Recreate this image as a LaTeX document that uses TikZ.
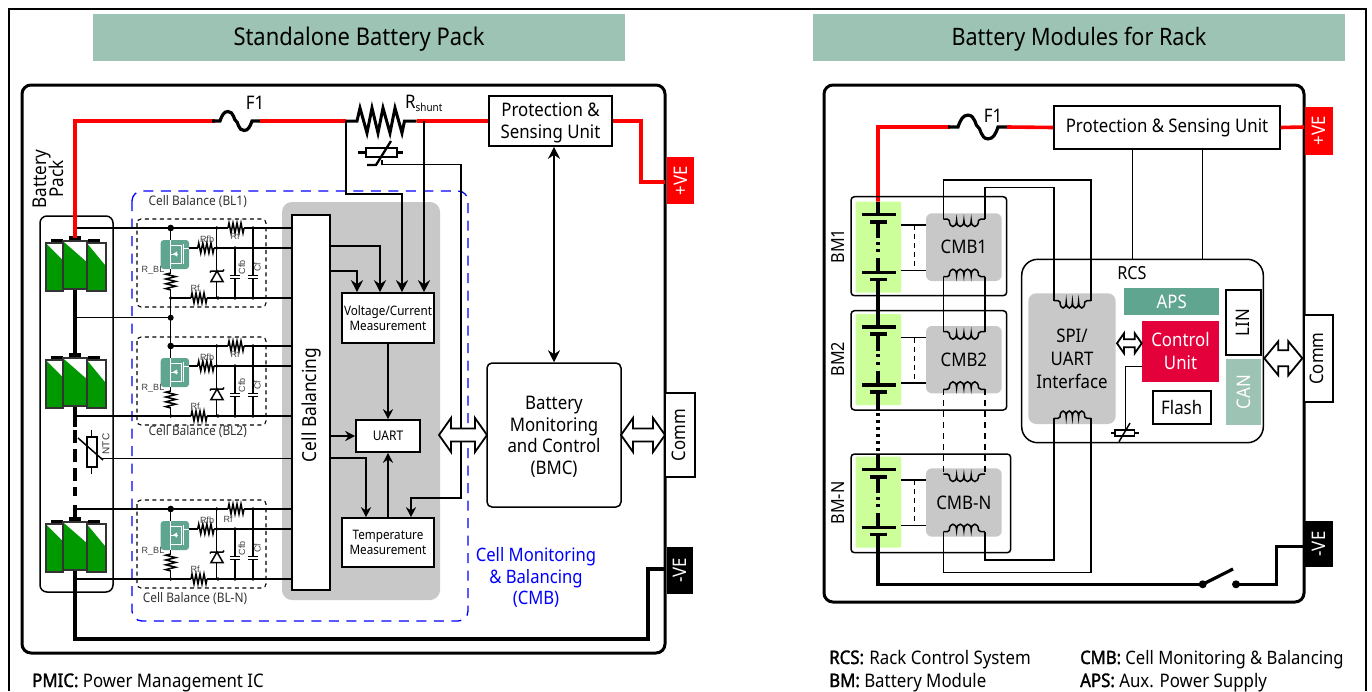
\documentclass[tikz,border=0pt]{standalone}
\usepackage{fontspec}
\setmainfont{Noto Sans}[FakeStretch=0.9,BoldFont=*,BoldFeatures={FakeBold=1.6}]
\newfontfamily\arialf{Liberation Sans}
\usetikzlibrary{arrows.meta,calc}
\definecolor{mint}{HTML}{9DC3B5}
\definecolor{teal2}{HTML}{5FA58F}
\definecolor{grayb}{HTML}{C8C8C8}
\definecolor{limeb}{HTML}{CCFF99}
\definecolor{crim}{HTML}{E4003A}
\definecolor{cellg}{HTML}{009900}
\definecolor{redv}{HTML}{FF0000}
\newcommand\fsz[2]{\fontsize{#1}{#2}\selectfont}
\newcommand\boxn[7][]{\node[#1,minimum width=#5-#3,minimum height=#6-#4] (#2) at ({(#3+#5)/2},{(#4+#6)/2}) {#7};}
\newcommand\hres[3]{\draw[wire] (#1,#3) -- ++({(#2-#1)/16},-5) -- ++({(#2-#1)/8},10) -- ++({(#2-#1)/8},-10) -- ++({(#2-#1)/8},10) -- ++({(#2-#1)/8},-10) -- ++({(#2-#1)/8},10) -- ++({(#2-#1)/8},-10) -- ++({(#2-#1)/8},10) -- ++({(#2-#1)/16},-5);}
\newcommand\fuse[3]{\draw[line width=3.2pt,shift={(#1,#2)},xscale=#3,yscale=#3] (0,0) -- (8,0) .. controls (10,-6) and (12,-9.5) .. (16,-9.5) .. controls (22,-9.5) and (22,0) .. (24,0) .. controls (26,0) and (26,9.5) .. (32,9.5) .. controls (36,9.5) and (38,6) .. (40,0) -- (48,0);}
\newcommand\coil[4]{\draw[wire] (#1,#3) -- ({#1+4},#3) -- ({#1+6},{#3+0.3*#4})
 .. controls +(0,{1.6*#4}) and +(0,{1.6*#4}) .. ++(7.3,0)
 .. controls +(0,{1.6*#4}) and +(0,{1.6*#4}) .. ++(7.3,0)
 .. controls +(0,{1.6*#4}) and +(0,{1.6*#4}) .. ++(7.3,0)
 .. controls +(0,{1.6*#4}) and +(0,{1.6*#4}) .. ++(7.3,0)
 -- ({#2-4},#3) -- (#2,#3);}
\newcommand\dblarrow[7][1.8pt]{\draw[line width=#1,fill=white,line join=miter] (#2,#4) -- ++(#6,-#5) -- ++(0,{#5-#7}) -- ({#3-#6},{#4-#7}) -- ++(0,{#7-#5}) -- (#3,#4) -- ({#3-#6},{#4+#5}) -- ++(0,{#7-#5}) -- ({#2+#6},{#4+#7}) -- ++(0,{#5-#7}) -- cycle;}
\newcommand\cellone[5]{%
 \fill[cellg] (#1,#3) rectangle (#2,#5);
 \fill[white] (#1,#3) -- (#2,#3) -- (#2,#4) -- cycle;
 \draw[line width=1.3pt,black!80] (#1,#3) rectangle (#2,#5);}
\newcommand\cellgroup[1]{\begin{scope}[shift={(0,#1)}]
 \fill (51,239) rectangle (63,244);
 \fill (88,239) rectangle (100,244);
 \cellone{46}{63}{243}{260}{291}
 \cellone{87}{106}{243}{266}{291}
 \fill (69,236) rectangle (81,242);
 \cellone{63}{87}{241}{262}{289}
\end{scope}}
% offset, name, Rf label position, start x of top rail
\newcommand\blblock[4]{\begin{scope}[shift={(0,#1)}]
 \draw[dashedbox] (137,219) rectangle (266,307);
 \draw[wire] (#4,228) -- (292,228);
 \draw[wire] (189,248) -- (292,248);
 \draw[wire] (170.7,298) -- (292,298);
 \draw[wire] (170.7,228) -- (170.7,298);
 \draw[wire] (216.7,228) -- (216.7,298);
 \draw[wire] (253,228) -- (253,275.3);
 \draw[wire] (253,278.7) -- (253,298);
 \draw[wire] (235,248) -- (235,275.3);
 \draw[wire] (235,278.7) -- (235,298);
 \draw[wire] (248,275.3) -- (258,275.3) (248,278.7) -- (258,278.7);
 \draw[wire] (230,275.3) -- (240,275.3) (230,278.7) -- (240,278.7);
 \fill[white] (228,222) rectangle (244,234);
 \fill[white] (191,292) rectangle (207,304);
 \fill[white] (197.7,242) rectangle (214,254);
 \fill[white] (165,273) rectangle (176,290);
 \hres{228}{244}{228}
 \hres{191}{207}{298}
 \hres{197.7}{214}{248}
 \draw[wire] (170.7,273) -- ++(-5,1.2) -- ++(10,2.4) -- ++(-10,2.4) -- ++(10,2.4) -- ++(-10,2.4) -- ++(10,2.4) -- ++(-10,2.4) -- (170.7,290);
 \fill[teal2,rounded corners=3pt] (160.7,240) rectangle (189,269);
 \begin{scope}[white,line width=.9pt]
  \draw (170.7,240) -- (170.7,245) -- (181,245) -- (181,263) -- (170.7,263) -- (170.7,269);
  \draw (170.7,245) -- (170.7,263);
  \draw (183,248) -- (189,248) (183,244) -- (183,264);
  \draw (171,254) -- (178,254);
  \fill (173,254) -- (177,251.5) -- (177,256.5) -- cycle;
 \end{scope}
 \draw[wire,fill=white] (217,271) -- (211,281.5) -- (223,281.5) -- cycle;
 \draw[wire] (210,272.5) -- (211,271) -- (223,271) -- (224,269.5);
 \foreach \p/\q in {216.7/228,216.7/248,235/248,253/228,218/298,235/298,253/298,170.7/298}{\fill (\p,\q) circle (1.9);}
 \fill (170.7,228) circle (3.3);
 \node[lbl] (rbl#2) at (153,270) {R\_BL};
 \node[lbl] (rfb#2) at (207,239) {Rfb};
 \node[lbl] (rfa#2) at #3 {Rf};
 \node[lbl] (rfc#2) at (195,288.5) {Rf};
 \node[lbl] (cfb#2) at (242,267) {\rotatebox{90}{Cfb}};
 \node[lbl] (cfc#2) at (257.5,267) {\rotatebox{90}{Cf}};
\end{scope}}
\newcommand\battcol[1]{\begin{scope}[shift={(0,#1)}]
 \draw[barw] (861.7,214.3) -- (895.7,214.3);
 \draw[barw] (870,221.7) -- (886.7,221.7);
 \draw[thickw] (878,221.7) -- (878,238);
 \fill (876.3,241.5) rectangle +(3.4,3.4);
 \fill (876.3,249) rectangle +(3.4,3.4);
 \draw[thickw] (878,258) -- (878,272.3);
 \draw[barw] (861.7,272.3) -- (895.7,272.3);
 \draw[barw] (870,279.3) -- (886.7,279.3);
 \draw[wire] (901,225) -- (926,225) (901,270.7) -- (926,270.7);
 \draw[line width=1pt,dash pattern=on 5pt off 4pt] (914,225) -- (914,270.7);
\end{scope}}
\tikzset{
 wire/.style={line width=1.5pt},
 thickw/.style={line width=3.2pt},
 barw/.style={line width=3.6pt},
 redw/.style={line width=3.6pt,draw=redv},
 frameb/.style={draw,line width=3pt,rounded corners=9pt},
 whitebox/.style={draw,line width=1.6pt,fill=white,inner sep=0pt,align=center},
 plainbox/.style={inner sep=0pt,align=center},
 softbox/.style={draw,line width=1.5pt,rounded corners=5pt},
 dashedbox/.style={line width=1.1pt,dash pattern=on 4pt off 3.5pt,rounded corners=4pt},
 lbl/.style={inner sep=0pt,font=\arialf\fsz{9}{11},text=black!75},
 arr/.style={line width=1.7pt,-{Stealth[length=12pt,width=12pt]}},
 sarr/.style={line width=1.7pt,-{Stealth[length=10pt,width=10pt]}},
 darr/.style={line width=1.7pt,{Stealth[length=12pt,width=12pt]}-{Stealth[length=12pt,width=12pt]}},
 txt/.style={inner sep=0pt,align=center},
}
\begin{document}
\begin{tikzpicture}[x=1pt,y=-1pt]
\useasboundingbox (0,0) rectangle (1372,691);
\fill[white] (0,0) rectangle (1372,691);
\draw[line width=2pt] (9,691) -- (9,9) -- (1366,9) -- (1366,691);
% titles
\boxn[fill=mint,plainbox,font=\fsz{24.4}{28}]{t1}{93}{14}{625}{61}{\raisebox{-2pt}[\height][\depth]{Standalone Battery Pack}}
\boxn[fill=mint,plainbox,font=\fsz{24}{28}]{t2}{813}{14}{1345}{61}{\raisebox{-2pt}[\height][\depth]{Battery Modules for Rack}}
% LEFT PANEL
\draw[frameb] (22,85) rectangle (665,653);
\draw[line width=1.5pt,rounded corners=7pt,fill=white] (40,216) rectangle (113,592);
\node[txt,font=\fsz{19}{19}] (bplabel) at (51,179) {\rotatebox{90}{\begin{tabular}{@{}c@{}}Battery\\[-4pt]Pack\end{tabular}}};
\boxn[fill=grayb,plainbox,rounded corners=10pt]{grayarea}{282}{202}{440}{600}{}
\draw[blue,line width=1.3pt,dash pattern=on 10pt off 7.5pt,rounded corners=10pt] (132,191) rectangle (468,621);
\node[txt,font=\fsz{13.2}{15},text=black!80] (clb1) at (197.7,201.7) {Cell Balance (BL1)};
\node[txt,font=\fsz{13.2}{15},text=black!80] (clb2) at (197.7,432) {Cell Balance (BL2)};
\node[txt,font=\fsz{13.2}{15},text=black!80] (clbn) at (195,599) {Cell Balance (BL-N)};
\node[txt,font=\fsz{18.5}{21.5},text=blue] (cmbl) at (536,577.5) {Cell Monitoring\\\& Balancing\\(CMB)};
% thick main wiring
\draw[thickw] (75,289) -- (75,358);
\draw[thickw] (75,407) -- (75,427);
\draw[thickw,dash pattern=on 13pt off 6pt] (75,430) -- (75,496);
\draw[thickw] (75,505) -- (75,522);
\draw[thickw] (75,570) -- (75,639) -- (648,639) -- (648,569) -- (665,569);
\draw[wire] (75,317.7) -- (170.7,317.7);
\draw[wire] (75,416) -- (170.7,416);
\draw[wire] (75,579) -- (170.7,579);
\draw[wire] (170.7,298) -- (170.7,346);
\fill (170.7,317.7) circle (3);
\blblock{0}{a}{(235,236)}{75}
\blblock{118}{b}{(235,236)}{170.7}
\blblock{281}{c}{(228,238)}{75}
\cellgroup{0}
\cellgroup{117}
\cellgroup{281}
% NTC
\draw[wire] (91.7,430) -- (91.7,474);
\draw[line width=1.5pt,fill=white] (87,437) rectangle (97,467);
\draw[wire] (78,438) -- (103,460);
\draw[wire] (102,458.3) -- (292,458.3);
\node[txt,font=\arialf\fsz{10}{12},text=black!80] (ntc) at (106,444) {\rotatebox{90}{NTC}};
% red feed
\draw[redw] (75,238) -- (75,121) -- (215,121);
\fuse{212}{121}{1}
\draw[redw] (260,121) -- (345.7,121);
\draw[line width=3pt,line join=miter] (345.7,121) -- (357,121) -- (360,108) -- (367,133) -- (372,108) -- (378,133) -- (383,108) -- (390,133) -- (395,108) -- (402,133) -- (404.5,121) -- (416.7,121);
\draw[redw] (416.7,121) -- (489,121);
\node[txt,font=\fsz{18.7}{20}] (f1a) at (255,103) {F1};
\node[txt,anchor=base west] (rsh) at (405,108) {\fsz{18.7}{20}R\raisebox{-3pt}{\fsz{11}{12}shunt}};
% thermistor
\draw[line width=2.3pt] (358,152.5) -- (403,152.5);
\draw[line width=2.3pt,fill=white] (366,148) rectangle (397,157);
\draw[line width=2.3pt] (367,165) -- (376,165) -- (391,141);
% boxes
\boxn[whitebox,font=\fsz{18.7}{21.5}]{prot}{489}{96}{612}{146}{\rule{0pt}{17pt}Protection \&\\Sensing Unit}
\boxn[softbox,plainbox,draw,font=\fsz{18.7}{21.5}]{bmc}{487}{363}{621}{507}{\rule{0pt}{17pt}Battery\\Monitoring\\and Control\\(BMC)}
\boxn[whitebox,font=\fsz{18.7}{20}]{comm}{665}{393}{695}{477}{\kern-1.5pt\rotatebox{90}{Comm}\kern1.5pt}
\boxn[fill=redv,plainbox,text=white,font=\fsz{18.7}{20}]{pve}{667}{157}{694}{204}{\rotatebox{90}{+VE}}
\boxn[fill=black,plainbox,text=white,font=\fsz{18.7}{20}]{nve}{667}{547}{693}{594}{\rotatebox{90}{-VE}}
\draw[redw] (prot.east) -- (641,121) -- (641,182) -- (665,182);
\boxn[whitebox]{cb}{292}{215}{330}{590}{}
\node[txt,font=\fsz{19.3}{22}] (cbl) at (311.5,405) {\rotatebox{90}{Cell Balancing}};
\boxn[whitebox,font=\fsz{13}{15.5}]{vc}{342}{293}{434}{343}{Voltage/Current\\Measurement}
\boxn[whitebox,font=\fsz{13.3}{15}]{uart}{356}{420}{420}{452}{UART}
\boxn[whitebox,font=\fsz{13}{15.5}]{temp}{342}{518}{434}{567}{Temperature\\Measurement}
\draw[darr] (prot.south -| bmc.north) -- (bmc.north);
% arrows
\coordinate (rl) at (345.7,121);
\coordinate (rr) at (424,121);
\draw[arr] (rl) -- (345.7,194) -- (402,194) -- (402,0 |- vc.north);
\draw[arr] (rr) -- (424,0 |- vc.north);
\draw[arr] (cb.east |- 0,245.7) -- (380,245.7) -- (380,0 |- vc.north);
\draw[arr] (cb.east |- 0,271) -- (357,271) -- (357,0 |- vc.north);
\draw[sarr] (vc.south) -- (uart.north);
\draw[sarr] (temp.north) -- (uart.south);
\draw[sarr] (cb.east |- 0,436) -- (uart.west |- 0,436);
\draw[sarr] (cb.east |- 0,458) -- (366,458) -- (366,0 |- temp.north);
\coordinate (thm) at (382,160);
\draw[sarr] (thm) -- (382,164.5) -- (461,164.5) -- (461,498) -- (411,498) -- (411,0 |- temp.north);
\dblarrow{439}{487}{435}{17}{12}{6.5}
\dblarrow{621}{665}{435}{17}{12}{6.5}
% RIGHT PANEL
\draw[frameb] (824,85) rectangle (1304,602);
\draw[redw] (878,202) -- (878,127) -- (950,127);
\fuse{948}{127}{1.25}
\boxn[whitebox,font=\fsz{18.7}{20}]{prot2}{1054}{106}{1280}{149}{Protection \& Sensing Unit}
\draw[redw] (1007,127) -- (prot2.west);
\draw[redw] (prot2.east) -- (1304,127);
\node[txt,font=\fsz{18.7}{20}] (f1b) at (993,115.5) {F1};
\boxn[fill=redv,plainbox,text=white,font=\fsz{18.7}{20}]{pve2}{1305}{107}{1333}{155}{\rotatebox{90}{+VE}}
\boxn[fill=black,plainbox,text=white,font=\fsz{18.7}{20}]{nve2}{1304}{521}{1333}{567}{\rotatebox{90}{-VE}}
\boxn[whitebox,font=\fsz{18.7}{20},line width=1.2pt]{comm2}{1304}{315}{1333}{402}{\kern-1.5pt\rotatebox{90}{Comm}\kern1.5pt}
% BM boxes
\boxn[softbox,rounded corners=3.5pt]{bm1}{851}{196.7}{1006.7}{295.7}{}
\boxn[softbox,rounded corners=3.5pt]{bm2}{851}{310.7}{1006.7}{410}{}
\boxn[softbox,rounded corners=3.5pt]{bmn}{851}{454}{1010.7}{552.7}{}
\node[txt,font=\fsz{18}{20}] (bm1l) at (838,246) {\rotatebox{90}{BM1}};
\node[txt,font=\fsz{18}{20}] (bm2l) at (838,359) {\rotatebox{90}{BM2}};
\node[txt,font=\fsz{18}{20}] (bmnl) at (838,503) {\rotatebox{90}{BM-N}};
\boxn[fill=limeb,plainbox,rounded corners=1pt]{g1}{855.7}{201.7}{901}{292.7}{}
\boxn[fill=limeb,plainbox,rounded corners=1pt]{g2}{855.7}{314}{901}{405}{}
\boxn[fill=limeb,plainbox,rounded corners=1pt]{g3}{855.7}{456.7}{901}{547.7}{}
\boxn[fill=grayb,plainbox,rounded corners=6pt,font=\fsz{18.7}{20}]{c1}{926}{213.3}{1001.7}{281}{CMB1}
\boxn[fill=grayb,plainbox,rounded corners=6pt,font=\fsz{18.7}{20}]{c2}{926}{326}{1001.7}{393.3}{CMB2}
\boxn[fill=grayb,plainbox,rounded corners=6pt,font=\fsz{18.7}{20}]{c3}{926}{468.3}{1001.7}{536.7}{CMB-N}
\battcol{0}
\battcol{112.5}
\battcol{255}
\draw[thickw] (878,202) -- (878,214);
\draw[thickw] (878,279.3) -- (878,327);
\draw[thickw] (878,391.8) -- (878,410);
\draw[thickw,dash pattern=on 3pt off 4pt] (878,413) -- (878,456);
\draw[thickw] (878,456) -- (878,469);
% RCS
\boxn[softbox,rounded corners=16pt,fill=white,line width=1.5pt]{rcs}{1021.7}{259.3}{1263.3}{442.7}{}
\node[txt,font=\fsz{18}{20}] (rcsl) at (1132,273) {RCS};
\boxn[fill=grayb,plainbox,rounded corners=8pt,font=\fsz{18.7}{23}]{spi}{1028.3}{293.3}{1115.7}{424}{SPI/\\UART\\Interface}
\boxn[fill=teal2,plainbox,text=white,font=\fsz{18.7}{20}]{aps}{1124.3}{288.3}{1219.3}{315}{APS}
\boxn[fill=crim,plainbox,text=white,font=\fsz{18.7}{23}]{ctrl}{1141.7}{320.7}{1219.3}{381.7}{Control\\Unit}
\boxn[whitebox,font=\fsz{18.7}{20}]{lin}{1225.7}{290}{1260.7}{355}{\rotatebox{90}{LIN}}
\boxn[fill=mint,plainbox,text=white,font=\fsz{18.7}{20}]{can}{1225.7}{359}{1261}{425}{\rotatebox{90}{CAN}}
\boxn[whitebox,font=\fsz{18.7}{20}]{flash}{1152.7}{390.7}{1210.7}{424}{Flash}
% wires of CMB chain
\draw[wire] (1132.3,0 |- prot2.south) -- (1132.3,0 |- rcs.north);
\draw[wire] (1202.7,0 |- prot2.south) -- (1202.7,0 |- rcs.north);
\draw[wire] (943.3,219) -- (943.3,180) -- (1091,180) -- (1091,300.7);
\draw[wire] (985,219) -- (985,187.3) -- (1054,187.3) -- (1054,300.7);
\draw[wire] (943.3,276.7) -- (943.3,331.7) (985,276.7) -- (985,331.7);
\draw[wire,dash pattern=on 6pt off 5pt] (943.3,389.3) -- (943.3,474) (985,389.3) -- (985,474);
\draw[wire] (1054,418.3) -- (1054,560) -- (985,560) -- (985,531.7);
\draw[wire] (1091,418.3) -- (1091,572.3) -- (943.3,572.3) -- (943.3,531.7);
\coil{943.3}{985}{219}{5}
\coil{943.3}{985}{276.7}{-5}
\coil{943.3}{985}{331.7}{5}
\coil{943.3}{985}{389.3}{-5}
\coil{943.3}{985}{474}{5}
\coil{943.3}{985}{531.7}{-5}
\draw[wire] (1054,300.7) -- (1058,300.7) -- (1060,302) .. controls +(0,8) and +(0,8) .. ++(6.2,0) .. controls +(0,8) and +(0,8) .. ++(6.2,0) .. controls +(0,8) and +(0,8) .. ++(6.2,0) .. controls +(0,8) and +(0,8) .. ++(6.2,0) -- (1087,300.7) -- (1091,300.7);
\draw[wire] (1054,418.3) -- (1058,418.3) -- (1060,417) .. controls +(0,-8) and +(0,-8) .. ++(6.2,0) .. controls +(0,-8) and +(0,-8) .. ++(6.2,0) .. controls +(0,-8) and +(0,-8) .. ++(6.2,0) .. controls +(0,-8) and +(0,-8) .. ++(6.2,0) -- (1087,418.3) -- (1091,418.3);
% negative line and switch
\draw[thickw] (878,534.3) -- (878,584.3) -- (1202.7,584.3);
\fill (1202.7,584.3) circle (4);
\fill (1236,584.3) circle (4);
\draw[thickw] (1202.7,584.3) -- (1233,569);
\draw[thickw] (1236,584.3) -- (1276.7,584.3) -- (1276.7,546.7) -- (1304,546.7);
% RCS small parts
\dblarrow{1117}{1141.7}{343.3}{10}{7}{4}
\dblarrow{1264.3}{1302.3}{358.3}{17}{14}{8}
\coordinate (thr) at (1125.7,430);
\draw[wire] (ctrl.west |- 0,366.7) -- (1125.7,366.7) -- (thr);
\draw[wire] (1111,433) -- (1139,433);
\draw[wire,fill=white] (1115,430) rectangle (1134.3,436);
\draw[wire] (1119,441.7) -- (1130,423);
% footer
\node[txt,anchor=base west,font=\fsz{18.7}{20}] (fa) at (829,664) {\textbf{RCS:}\hspace{1pt} Rack Control System};
\node[txt,anchor=base west,font=\fsz{18.7}{20}] (fb) at (829,687) {\textbf{BM:} Battery Module};
\node[txt,anchor=base west,font=\fsz{18.5}{20}] (fc) at (1080,664) {\textbf{CMB:} Cell Monitoring \& Balancing};
\node[txt,anchor=base west,font=\fsz{18.7}{20}] (fd) at (1080,687) {\textbf{APS:} Aux. Power Supply};
\node[txt,anchor=base west,font=\fsz{18.7}{20}] (fe) at (32,687) {\textbf{PMIC:} Power Management IC};
\end{tikzpicture}
\end{document}
